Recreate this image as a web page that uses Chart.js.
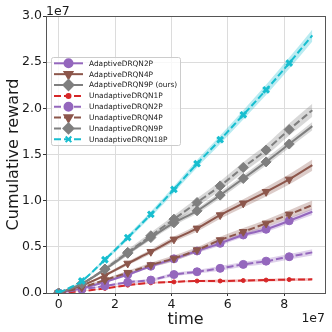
<!DOCTYPE html>
<html>
<head>
<meta charset="utf-8">
<script src="https://cdn.jsdelivr.net/npm/chart.js@4.4.1/dist/chart.umd.min.js"></script>
<style>
  html, body { margin: 0; padding: 0; background: #fff; }
  #wrap { width: 332px; height: 332px; }
</style>
</head>
<body>
<div id="wrap"><canvas id="chart"></canvas></div>
<script>
// all values in units of 1e7 (offset text drawn on the axes)
const times = [0, 0.82, 1.64, 2.45, 3.27, 4.09, 4.91, 5.73, 6.55, 7.36, 8.18, 9.0];
const xTicks = [0, 2, 4, 6, 8];
const yTicks = [0, 0.5, 1.0, 1.5, 2.0, 2.5, 3.0];

const adaptive2P   = [0, 0.05, 0.12, 0.20, 0.29, 0.37, 0.455, 0.538, 0.628, 0.69, 0.782, 0.88];
const adaptive4P   = [0, 0.08, 0.19, 0.32, 0.447, 0.581, 0.70, 0.844, 0.971, 1.096, 1.23, 1.385];
const adaptive9P   = [0, 0.10, 0.256, 0.43, 0.60, 0.76, 0.89, 1.06, 1.24, 1.42, 1.613, 1.807];
const unadaptive1P = [0, 0.02, 0.05, 0.085, 0.11, 0.12, 0.13, 0.13, 0.135, 0.14, 0.145, 0.148];
const unadaptive2P = [0, 0.04, 0.076, 0.116, 0.14, 0.20, 0.23, 0.267, 0.31, 0.345, 0.393, 0.44];
const unadaptive4P = [0, 0.06, 0.14, 0.22, 0.303, 0.375, 0.465, 0.574, 0.663, 0.754, 0.852, 0.952];
const unadaptive9P = [0, 0.10, 0.26, 0.44, 0.62, 0.80, 0.98, 1.16, 1.36, 1.548, 1.77, 1.98];
const unadaptive18P = [0, 0.13, 0.36, 0.60, 0.852, 1.122, 1.40, 1.66, 1.93, 2.20, 2.49, 2.79];

// half width of the shaded band around each curve
const adaptive2PSpread   = [0, 0.005, 0.01, 0.015, 0.015, 0.02, 0.02, 0.025, 0.025, 0.03, 0.03, 0.035];
const adaptive4PSpread   = [0, 0.01, 0.015, 0.02, 0.025, 0.03, 0.035, 0.04, 0.045, 0.05, 0.055, 0.06];
const adaptive9PSpread   = [0, 0.01, 0.015, 0.02, 0.025, 0.03, 0.03, 0.035, 0.035, 0.04, 0.04, 0.045];
const unadaptive1PSpread = [0, 0.005, 0.005, 0.01, 0.01, 0.01, 0.01, 0.015, 0.015, 0.015, 0.015, 0.015];
const unadaptive2PSpread = [0, 0.005, 0.01, 0.015, 0.015, 0.02, 0.02, 0.025, 0.025, 0.03, 0.03, 0.035];
const unadaptive4PSpread = [0, 0.01, 0.015, 0.02, 0.025, 0.03, 0.03, 0.035, 0.04, 0.04, 0.045, 0.05];
const unadaptive9PSpread = [0, 0.01, 0.02, 0.03, 0.035, 0.04, 0.045, 0.05, 0.055, 0.06, 0.065, 0.07];
const unadaptive18PSpread = [0, 0.01, 0.02, 0.025, 0.03, 0.035, 0.04, 0.045, 0.05, 0.055, 0.06, 0.065];

const FONT = '"DejaVu Sans", "Liberation Sans", sans-serif';
const DASH = [7, 3];

const series = [
  { label: 'AdaptiveDRQN2P', values: adaptive2P, spread: adaptive2PSpread, rgb: '148,103,189', dash: [], marker: 'circle', radius: 4, bw: 1 },
  { label: 'AdaptiveDRQN4P', values: adaptive4P, spread: adaptive4PSpread, rgb: '140,86,75', dash: [], marker: 'triangle', rot: 180, radius: 4.5, bw: 1 },
  { label: 'AdaptiveDRQN9P (ours)', values: adaptive9P, spread: adaptive9PSpread, rgb: '127,127,127', dash: [], marker: 'rectRot', radius: 5, bw: 1 },
  { label: 'UnadaptiveDRQN1P', values: unadaptive1P, spread: unadaptive1PSpread, rgb: '214,39,40', dash: DASH, marker: 'circle', radius: 2, bw: 1 },
  { label: 'UnadaptiveDRQN2P', values: unadaptive2P, spread: unadaptive2PSpread, rgb: '148,103,189', dash: DASH, marker: 'circle', radius: 4, bw: 1 },
  { label: 'UnadaptiveDRQN4P', values: unadaptive4P, spread: unadaptive4PSpread, rgb: '140,86,75', dash: DASH, marker: 'triangle', rot: 180, radius: 4.5, bw: 1 },
  { label: 'UnadaptiveDRQN9P', values: unadaptive9P, spread: unadaptive9PSpread, rgb: '127,127,127', dash: DASH, marker: 'rectRot', radius: 5, bw: 1 },
  { label: 'UnadaptiveDRQN18P', values: unadaptive18P, spread: unadaptive18PSpread, rgb: '23,190,207', dash: DASH, marker: 'crossRot', radius: 4, bw: 3 }
];

// bands first (pairs: lower, upper filled to lower), then the lines
const datasets = [];
series.forEach(s => {
  datasets.push({
    data: times.map((t, k) => ({ x: t, y: s.values[k] - s.spread[k] })),
    borderWidth: 0, pointRadius: 0, fill: false, order: 50, cubicInterpolationMode: 'monotone'
  });
  datasets.push({
    data: times.map((t, k) => ({ x: t, y: s.values[k] + s.spread[k] })),
    borderWidth: 0, pointRadius: 0, fill: '-1', order: 50, cubicInterpolationMode: 'monotone',
    backgroundColor: `rgba(${s.rgb},0.3)`
  });
});
series.forEach((s, i) => {
  const color = `rgb(${s.rgb})`;
  datasets.push({
    label: s.label,
    data: times.map((t, k) => ({ x: t, y: s.values[k] })),
    borderColor: color,
    backgroundColor: color,
    borderWidth: 2,
    borderDash: s.dash,
    cubicInterpolationMode: 'monotone',
    pointStyle: s.marker,
    pointRotation: s.rot || 0,
    pointRadius: times.map((t, k) => k < times.length - 1 ? s.radius : 0),
    pointBorderWidth: s.bw,
    pointBorderColor: color,
    pointBackgroundColor: color,
    fill: false,
    order: 20 - i
  });
});

// legend box inside the axes, upper left
const boxLegend = {
  id: 'boxLegend',
  afterDatasetsDraw(chart) {
    const ctx = chart.ctx;
    ctx.save();
    ctx.fillStyle = 'rgba(255,255,255,0.8)';
    ctx.strokeStyle = '#cccccc';
    ctx.lineWidth = 1;
    ctx.beginPath();
    if (ctx.roundRect) ctx.roundRect(51.5, 57.5, 129, 88, 2);
    else ctx.rect(51.5, 57.5, 129, 88);
    ctx.fill();
    ctx.stroke();
    series.forEach((s, i) => {
      const y = 63.3 + i * 10.86;
      const color = `rgb(${s.rgb})`;
      ctx.strokeStyle = color;
      ctx.lineWidth = 2;
      ctx.setLineDash(s.dash);
      ctx.beginPath();
      ctx.moveTo(54, y);
      ctx.lineTo(83, y);
      ctx.stroke();
      ctx.setLineDash([]);
      ctx.fillStyle = color;
      Chart.helpers.drawPoint(ctx, { pointStyle: s.marker, rotation: s.rot || 0, radius: s.radius, borderWidth: s.bw }, 68.5, y);
      ctx.fillStyle = '#1a1a1a';
      ctx.font = '7.4px ' + FONT;
      ctx.textAlign = 'left';
      ctx.textBaseline = 'middle';
      ctx.fillText(s.label, 89, y + 0.5);
    });
    ctx.restore();
  }
};

// frame on all four sides + 1e7 offset texts
const frameAndOffsets = {
  id: 'frameAndOffsets',
  afterDraw(chart) {
    const { ctx, chartArea: a } = chart;
    ctx.save();
    ctx.strokeStyle = '#555555';
    ctx.lineWidth = 1;
    ctx.strokeRect(Math.round(a.left) + 0.5, Math.round(a.top) + 0.5, Math.round(a.right - a.left), Math.round(a.bottom - a.top));
    ctx.fillStyle = '#1a1a1a';
    ctx.font = '12.5px ' + FONT;
    ctx.textBaseline = 'alphabetic';
    ctx.textAlign = 'left';
    ctx.fillText('1e7', a.left, 14.5);
    ctx.textAlign = 'right';
    ctx.fillText('1e7', a.right, 322);
    ctx.restore();
  }
};

new Chart(document.getElementById('chart'), {
  type: 'line',
  data: { datasets },
  options: {
    responsive: true,
    maintainAspectRatio: false,
    animation: false,
    events: [],
    layout: { padding: { top: 16, right: 5, left: 0, bottom: 0 } },
    plugins: { legend: { display: false }, tooltip: { enabled: false } },
    scales: {
      x: {
        type: 'linear',
        min: -0.45,
        max: 9.45,
        afterFit: s => { s.height = 39; },
        afterBuildTicks: s => { s.ticks = xTicks.map(v => ({ value: v })); },
        grid: { color: '#dcdcdc', tickColor: '#333', tickLength: 3, lineWidth: 1 },
        border: { display: false },
        ticks: { color: '#1a1a1a', font: { family: FONT, size: 12.5 }, padding: 1, maxRotation: 0, callback: v => String(v) },
        title: { display: true, text: 'time', color: '#1a1a1a', font: { family: FONT, size: 16 }, padding: { top: 0, bottom: 3 } }
      },
      y: {
        min: 0,
        max: 3,
        afterFit: s => { s.width = 46; },
        afterBuildTicks: s => { s.ticks = yTicks.map(v => ({ value: v })); },
        grid: { color: '#dcdcdc', tickColor: '#333', tickLength: 3, lineWidth: 1 },
        border: { display: false },
        ticks: { color: '#1a1a1a', font: { family: FONT, size: 12.5 }, padding: 1, callback: v => v.toFixed(1) },
        title: { display: true, text: 'Cumulative reward', color: '#1a1a1a', font: { family: FONT, size: 16 }, padding: { top: 4, bottom: 0 } }
      }
    }
  },
  plugins: [boxLegend, frameAndOffsets]
});
</script>
</body>
</html>
